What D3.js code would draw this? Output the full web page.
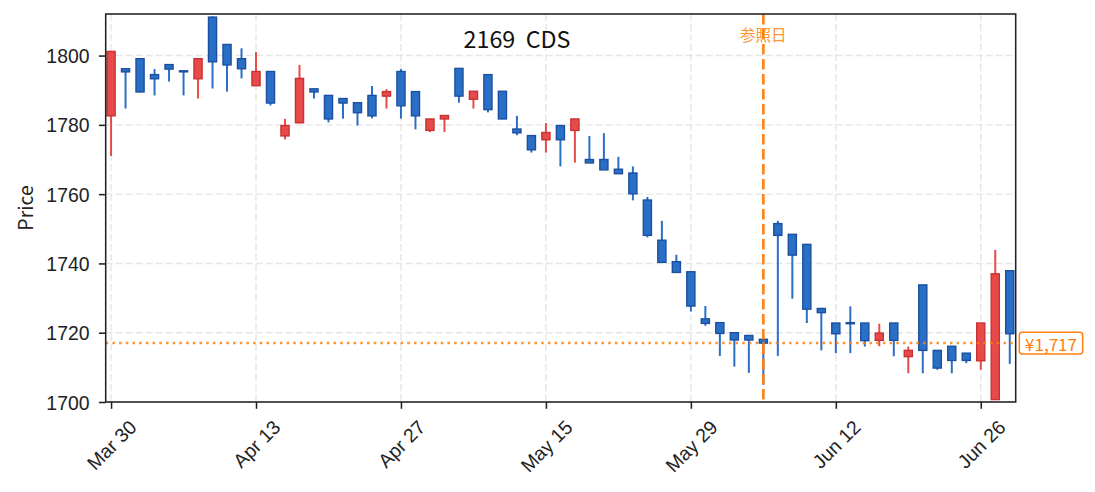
<!DOCTYPE html>
<html>
<head>
<meta charset="utf-8">
<script src="https://cdn.jsdelivr.net/npm/d3@7"></script>
<style>
  html, body { margin: 0; padding: 0; background: #fff; }
  svg { display: block; font-family: "Noto Sans CJK JP", "Noto Sans", sans-serif; }
</style>
</head>
<body>
<div id="chart"></div>
<script>
// trading days (Tokyo), one candle each
const dates = [
  "2020-03-30","2020-03-31","2020-04-01","2020-04-02","2020-04-03","2020-04-06","2020-04-07","2020-04-08",
  "2020-04-09","2020-04-10","2020-04-13","2020-04-14","2020-04-15","2020-04-16","2020-04-17","2020-04-20",
  "2020-04-21","2020-04-22","2020-04-23","2020-04-24","2020-04-27","2020-04-28","2020-04-30","2020-05-01",
  "2020-05-07","2020-05-08","2020-05-11","2020-05-12","2020-05-13","2020-05-14","2020-05-15","2020-05-18",
  "2020-05-19","2020-05-20","2020-05-21","2020-05-22","2020-05-25","2020-05-26","2020-05-27","2020-05-28",
  "2020-05-29","2020-06-01","2020-06-02","2020-06-03","2020-06-04","2020-06-05","2020-06-08","2020-06-09",
  "2020-06-10","2020-06-11","2020-06-12","2020-06-15","2020-06-16","2020-06-17","2020-06-18","2020-06-19",
  "2020-06-22","2020-06-23","2020-06-24","2020-06-25","2020-06-26","2020-06-29","2020-06-30"
];
const open = [
  1782.6,1796.2,1799.1,1794.5,1797.4,1795.6,1793.3,1811.1,1803.2,1799.1,1791.3,1795.4,1776.8,1780.6,1790.4,1788.5,
  1787.6,1786.4,1788.5,1788.3,1795.4,1789.6,1778.4,1781.7,1796.3,1787.4,1794.5,1789.7,1778.8,1776.9,1775.7,1779.8,
  1778.4,1770.0,1770.0,1767.2,1766.1,1758.3,1746.7,1740.5,1737.6,1724.0,1722.9,1720.0,1719.2,1718.1,1751.5,1748.4,
  1745.5,1727.0,1722.8,1722.9,1722.8,1717.8,1722.8,1713.1,1733.8,1714.9,1716.1,1714.1,1711.9,1700.7,1737.9
];
const high = [
  1801.2,1796.3,1799.2,1796.1,1797.4,1795.6,1799.1,1811.3,1803.2,1802.1,1801.0,1795.5,1781.7,1797.3,1790.4,1788.5,
  1787.6,1786.4,1791.2,1790.3,1796.1,1789.6,1781.7,1782.7,1796.3,1789.7,1794.5,1789.7,1782.6,1776.9,1780.5,1779.8,
  1781.7,1776.8,1777.6,1770.8,1768.0,1759.2,1752.3,1742.5,1737.6,1727.7,1722.9,1720.0,1719.2,1718.1,1752.3,1748.4,
  1745.5,1727.0,1722.8,1727.6,1722.8,1722.6,1722.8,1716.0,1733.8,1714.9,1716.1,1714.1,1722.8,1743.9,1737.9
];
const low = [
  1771.0,1784.7,1789.4,1788.5,1792.5,1788.5,1787.6,1790.5,1789.6,1793.4,1791.2,1785.6,1775.8,1780.5,1787.6,1780.7,
  1781.8,1779.8,1781.9,1784.7,1781.8,1778.7,1777.9,1777.9,1786.4,1784.7,1783.6,1781.7,1777.0,1772.0,1772.0,1768.0,
  1769.1,1769.0,1767.0,1765.9,1758.2,1747.5,1740.3,1737.4,1726.1,1722.0,1713.3,1710.2,1708.4,1705.0,1713.3,1729.8,
  1722.8,1714.9,1714.1,1714.1,1716.0,1716.1,1713.2,1708.3,1708.3,1709.3,1708.3,1711.2,1709.3,1700.7,1711.0
];
const close = [
  1801.2,1795.3,1789.5,1793.3,1796.1,1795.3,1799.1,1798.2,1797.3,1796.2,1795.4,1786.3,1779.8,1793.4,1789.5,1781.7,
  1786.3,1783.5,1782.6,1789.6,1785.5,1782.6,1781.7,1782.7,1788.3,1789.7,1784.4,1781.7,1777.7,1772.8,1777.8,1775.7,
  1781.7,1769.0,1767.0,1765.9,1760.1,1748.1,1740.3,1737.4,1727.7,1722.7,1719.8,1717.9,1717.9,1717.0,1748.1,1742.4,
  1726.8,1725.8,1719.7,1722.6,1717.7,1719.9,1717.8,1714.9,1714.9,1709.8,1712.0,1712.0,1722.8,1737.0,1719.7
];
const xTickIndex = [0, 10, 20, 30, 40, 50, 60];
const yTickValues = [1700, 1720, 1740, 1760, 1780, 1800];
const refIndex = 45;          // 参照日
const refPrice = 1717;
const title = "2169  CDS";

const W = 1095, H = 492;
const margin = { top: 14, right: 79.3, bottom: 90, left: 105.7 };
const fs = 19.4;

const upFill = "#e84a4a", upEdge = "#c83232";
const dnFill = "#2a6fc6", dnEdge = "#1b50a0";
const orange = "#ff7f0e";
const ink = "#222";

const parse = d3.timeParse("%Y-%m-%d");
const fmt = d3.timeFormat("%b %-d");
const candles = dates.map((d, i) => ({
  i, date: parse(d), o: open[i], h: high[i], l: low[i], c: close[i]
}));

const svg = d3.select("#chart").append("svg")
  .attr("width", W).attr("height", H);

const x = d3.scaleLinear().domain([-0.37, 62.41]).range([margin.left, W - margin.right]);
const y = d3.scaleLinear().domain([1700, 1812]).range([H - margin.bottom, margin.top]);

// grid
const grid = svg.append("g").attr("stroke", "#e6e6e6").attr("stroke-width", 1.4)
  .attr("stroke-dasharray", "7,3");
grid.selectAll(".gx").data(xTickIndex).join("line")
  .attr("x1", d => x(d)).attr("x2", d => x(d))
  .attr("y1", margin.top).attr("y2", H - margin.bottom);
grid.selectAll(".gy").data(yTickValues).join("line")
  .attr("x1", margin.left).attr("x2", W - margin.right)
  .attr("y1", d => y(d)).attr("y2", d => y(d));

// candles
const bw = x(0.56) - x(0);
const cg = svg.append("g");
cg.selectAll("line.wick").data(candles).join("line")
  .attr("class", "wick")
  .attr("x1", d => x(d.i)).attr("x2", d => x(d.i))
  .attr("y1", d => y(d.h)).attr("y2", d => y(d.l))
  .attr("stroke", d => d.c >= d.o ? upFill : dnFill)
  .attr("stroke-width", 2);
cg.selectAll("rect.body").data(candles).join("rect")
  .attr("class", "body")
  .attr("x", d => x(d.i) - bw / 2).attr("width", bw)
  .attr("y", d => y(Math.max(d.o, d.c)))
  .attr("height", d => Math.max(0.8, y(Math.min(d.o, d.c)) - y(Math.max(d.o, d.c))))
  .attr("fill", d => d.c >= d.o ? upFill : dnFill)
  .attr("stroke", d => d.c >= d.o ? upEdge : dnEdge)
  .attr("stroke-width", 1.4);

// reference price line
svg.append("line")
  .attr("x1", margin.left).attr("x2", W - margin.right)
  .attr("y1", y(refPrice)).attr("y2", y(refPrice))
  .attr("stroke", orange).attr("stroke-width", 2.5).attr("opacity", 0.85)
  .attr("stroke-dasharray", "2.5,4.2");

// reference date line
svg.append("line")
  .attr("x1", x(refIndex)).attr("x2", x(refIndex))
  .attr("y1", margin.top).attr("y2", H - margin.bottom)
  .attr("stroke", orange).attr("stroke-width", 2.7).attr("opacity", 0.95)
  .attr("stroke-dasharray", "10.5,4.5");
svg.append("text")
  .attr("x", x(refIndex)).attr("y", 34)
  .attr("text-anchor", "middle").attr("dominant-baseline", "central")
  .attr("font-size", 15.5).attr("fill", orange).attr("opacity", 0.85)
  .text("参照日");

// title
svg.append("text")
  .attr("x", 517).attr("y", 48.3)
  .attr("text-anchor", "middle").attr("font-size", 23.3).attr("fill", "#111")
  .style("white-space", "pre")
  .text(title);

// axes
const xAxis = d3.axisBottom(x).tickValues(xTickIndex)
  .tickFormat(i => fmt(candles[i].date))
  .tickSize(6.8).tickSizeOuter(0);
const gx = svg.append("g").attr("transform", `translate(0,${H - margin.bottom})`).call(xAxis);
gx.select(".domain").remove();
gx.selectAll(".tick line").attr("stroke", ink).attr("stroke-width", 1.55);
gx.selectAll(".tick text")
  .attr("font-size", fs).attr("fill", ink).attr("font-family", null)
  .attr("y", 0).attr("dy", null)
  .attr("text-anchor", "middle").attr("dominant-baseline", "central")
  .each(function () {
    const w = this.getComputedTextLength();
    const off = 13.6 + (w + fs * 1.16) / (2 * Math.SQRT2);
    d3.select(this).attr("transform", `translate(0,${off}) rotate(-45)`);
  });

const yAxis = d3.axisLeft(y).tickValues(yTickValues).tickFormat(d3.format("d"))
  .tickSize(6.8).tickPadding(9.4).tickSizeOuter(0);
const gy = svg.append("g").attr("transform", `translate(${margin.left},0)`).call(yAxis);
gy.select(".domain").remove();
gy.selectAll(".tick line").attr("stroke", ink).attr("stroke-width", 1.55);
gy.selectAll(".tick text").attr("font-size", fs).attr("fill", ink).attr("font-family", null)
  .attr("dy", null).attr("dominant-baseline", "central");

// frame
svg.append("rect")
  .attr("x", margin.left).attr("y", margin.top)
  .attr("width", W - margin.left - margin.right)
  .attr("height", H - margin.top - margin.bottom)
  .attr("fill", "none").attr("stroke", ink).attr("stroke-width", 1.55);

// y label
svg.append("text")
  .attr("transform", `translate(33,${(margin.top + H - margin.bottom) / 2}) rotate(-90)`)
  .attr("text-anchor", "middle").attr("font-size", fs).attr("fill", ink)
  .text("Price");

// price tag at right
const tagX = W - margin.right + 3.6, tagY = y(refPrice);
svg.append("rect")
  .attr("x", tagX).attr("y", tagY - 10.9).attr("width", 63.4).attr("height", 21.7)
  .attr("rx", 3).attr("fill", "#fff").attr("stroke", orange).attr("stroke-width", 1.5);
svg.append("text")
  .attr("x", tagX + 31.7).attr("y", tagY)
  .attr("text-anchor", "middle").attr("dominant-baseline", "central")
  .attr("font-size", 17).attr("fill", orange)
  .text("¥" + d3.format(",")(refPrice));
</script>
</body>
</html>
